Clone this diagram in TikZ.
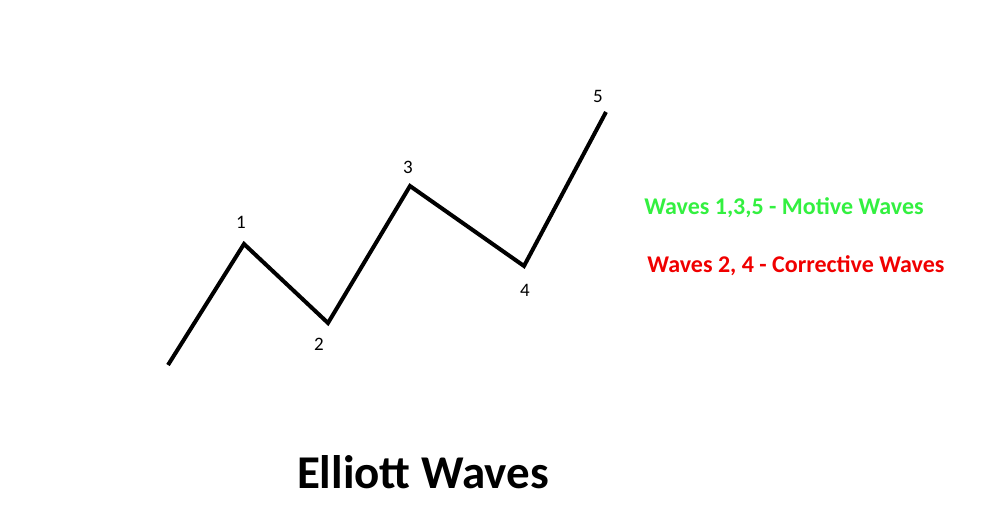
\documentclass[tikz,border=0pt]{standalone}
\usepackage{fontspec}
\setmainfont{Carlito}
\usetikzlibrary{positioning}
\definecolor{motivegreen}{RGB}{51,240,64}
\definecolor{corrred}{RGB}{240,0,0}

\begin{document}
\begin{tikzpicture}[x=1pt,y=-1pt]
    \useasboundingbox (0,0) rectangle (981,517);
    % wave points
    \coordinate (w0) at (168,365);
    \coordinate (w1) at (244,244);
    \coordinate (w2) at (328,323);
    \coordinate (w3) at (410,186);
    \coordinate (w4) at (524,266);
    \coordinate (w5) at (606,112);
    \draw[line width=4pt, line join=miter] (w0) -- (w1) -- (w2) -- (w3) -- (w4) -- (w5);
    % labels
    \node[font=\fontsize{19}{22}\selectfont] (l1) at (241,222) {1};
    \node[font=\fontsize{19}{22}\selectfont] (l2) at (319,344) {2};
    \node[font=\fontsize{19}{22}\selectfont] (l3) at (408,167) {3};
    \node[font=\fontsize{19}{22}\selectfont] (l4) at (525,290) {4};
    \node[font=\fontsize{19}{22}\selectfont] (l5) at (598,96) {5};
    \node[font=\bfseries\fontsize{24}{28}\selectfont, text=motivegreen] (motive) at (784,208) {Waves 1,3,5 - Motive Waves};
    \node[font=\bfseries\fontsize{24}{28}\selectfont, text=corrred] (corr) at (796,266) {Waves 2, 4 - Corrective Waves};
    \node[font=\bfseries\fontsize{47}{54}\selectfont] (title) at (423,472) {Elliott Waves};
\end{tikzpicture}
\end{document}
